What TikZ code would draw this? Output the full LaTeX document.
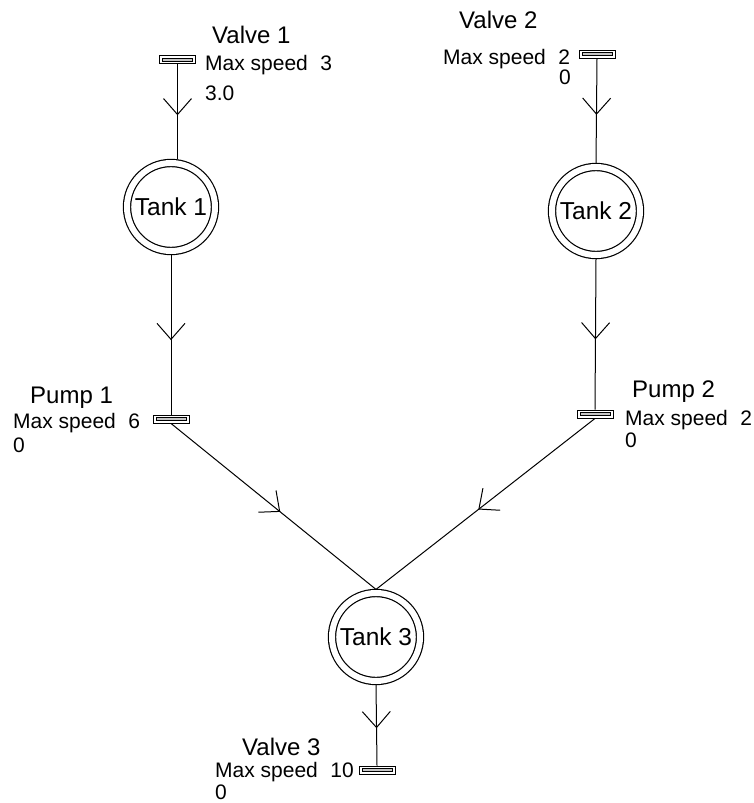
\documentclass[tikz,border=0pt]{standalone}
\usepackage{fontspec}
\setmainfont{Liberation Sans}
\usetikzlibrary{decorations.markings}
\begin{document}
\begin{tikzpicture}[x=1pt,y=-1pt,
  flow/.style={draw, line width=1pt, postaction={decorate},
    decoration={markings, mark=at position 0.53 with {\draw[line width=1pt] (-16pt,14pt) -- (0pt,0pt) -- (-16pt,-14pt);}}},
  gate/.style={draw, line width=0.9pt, fill=white, minimum width=36pt, minimum height=8pt, inner sep=0pt,
    path picture={\draw[line width=0.6pt, fill=gray!45] ([xshift=3pt,yshift=2.5pt]path picture bounding box.south west) rectangle ([xshift=-3pt,yshift=-2.5pt]path picture bounding box.north east);}},
  tank/.style={circle, draw, double, double distance=6pt, line width=1.2pt, minimum size=88pt, inner sep=0pt, outer sep=3.6pt, font=\fontsize{24.5}{28}\selectfont},
  title/.style={font=\fontsize{24}{28}\selectfont, inner sep=0pt, anchor=base west},
  info/.style={font=\fontsize{21}{25}\selectfont, inner sep=0pt, anchor=base west}
]
\useasboundingbox (0,0) rectangle (754,803);

% gates
\node[gate] (v1) at (177.5,59.5) {};
\node[gate] (v2) at (597,54) {};
\node[gate] (p1) at (171,419) {};
\node[gate] (p2) at (595,414) {};
\node[gate] (v3) at (377,770) {};

% tanks
\node[tank] (t1) at (171,207) {Tank 1};
\node[tank] (t2) at (596,211) {Tank 2};
\node[tank] (t3) at (376,637) {Tank 3};

% connectors
\path[flow] (v1.south) -- (v1.south |- t1.north);
\path[flow] (t1.south) -- (p1.north);
\path[flow] (v2.south) -- (t2.north);
\path[flow] (t2.south) -- (p2.north);
\path[flow] (p1.south) -- (t3.north);
\path[flow] (p2.south) -- (t3.north);
\path[flow] (t3.south) -- (v3.north);

% labels
\node[title] (lv1) at (212,43) {Valve 1};
\node[info] (sv1) at (205,70) {Max speed\hspace{0.6em}3};
\node[info] (fv1) at (205,100) {3.0};

\node[title] (lv2) at (459,28) {Valve 2};
\node[info] (sv2) at (443,64) {Max speed\hspace{0.6em}2};
\node[info] (fv2) at (559,84) {0};

\node[title] (lp1) at (30,403) {Pump 1};
\node[info] (sp1) at (13,428) {Max speed\hspace{0.6em}6};
\node[info] (fp1) at (13,452) {0};

\node[title] (lp2) at (632,397) {Pump 2};
\node[info] (sp2) at (625,425) {Max speed\hspace{0.6em}2};
\node[info] (fp2) at (625,447) {0};

\node[title] (lv3) at (242,755) {Valve 3};
\node[info] (sv3) at (215,777.5) {Max speed\hspace{0.6em}10};
\node[info] (fv3) at (215,799.5) {0};
\end{tikzpicture}
\end{document}
